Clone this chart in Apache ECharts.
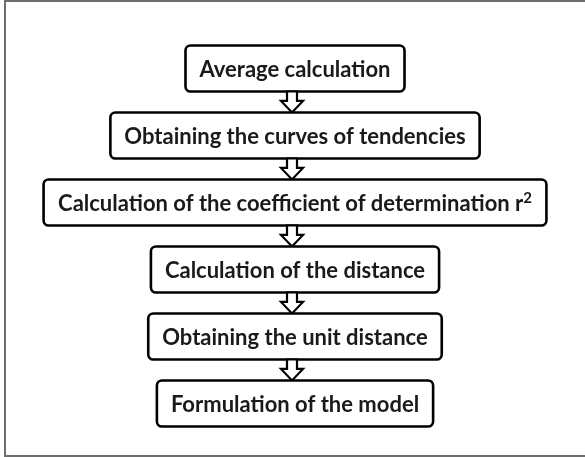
<!DOCTYPE html>
<html>
<head>
<meta charset="utf-8">
<script src="https://cdn.jsdelivr.net/npm/echarts@6/dist/echarts.min.js"></script>
<style>
html, body { margin: 0; padding: 0; background: #fff; }
#main { width: 585px; height: 457px; }
</style>
</head>
<body>
<div id="main"></div>
<script>
// flowchart steps, top to bottom
var steps = [
	'Average calculation',
	'Obtaining the curves of tendencies',
	'Calculation of the coefficient of determination r²',
	'Calculation of the distance',
	'Obtaining the unit distance',
	'Formulation of the model'
];
var stepIndex = steps.map(function(s, i) { return i; });

// layout / style
var FONT_FAMILY = 'Lato';
var FONT_SIZE = 22;
var SUP_SIZE = 15;
var CENTER_X = 295;
var BOX_H = 46;
var PAD_X = 14;
var TEXT_COLOR = '#1a1a1a';

var ctx = document.createElement('canvas').getContext('2d');
function textWidth(str, size) {
	ctx.font = 'bold ' + size + 'px ' + FONT_FAMILY;
	return ctx.measureText(str).width;
}

function renderStep(params, api) {
	var i = api.value(1);
	var p = api.coord([CENTER_X, i]);
	var label = steps[i];
	var main = label, sup = '';
	if (label.indexOf('²') >= 0) {
		main = label.replace('²', '');
		sup = '2';
	}
	var w = textWidth(main, FONT_SIZE) + (sup ? textWidth(sup, SUP_SIZE) + 1 : 0) + 2 * PAD_X;
	var children = [];
	if (i > 0) {
		var prev = api.coord([CENTER_X, i - 1]);
		var y0 = prev[1] + BOX_H / 2;
		var y1 = p[1] - BOX_H / 2;
		var yh = y0 + (y1 - y0) * 0.45;
		var cx = p[0] - 3;
		children.push({
			type: 'polygon',
			shape: {
				points: [
					[cx - 5, y0], [cx + 5, y0], [cx + 5, yh], [cx + 11, yh],
					[cx, y1], [cx - 11, yh], [cx - 5, yh]
				]
			},
			style: { fill: '#fff', stroke: '#000', lineWidth: 2.2, lineJoin: 'miter' }
		});
	}
	children.push({
		type: 'rect',
		shape: { x: p[0] - w / 2, y: p[1] - BOX_H / 2, width: w, height: BOX_H, r: 5 },
		style: { fill: '#fff', stroke: '#000', lineWidth: 2.6 }
	});
	var text = '{n|' + main + '}' + (sup ? '{s|' + sup + '}' : '');
	children.push({
		type: 'text',
		style: {
			x: p[0], y: p[1] + 1,
			text: text,
			align: 'center',
			verticalAlign: 'middle',
			rich: {
				n: { fontSize: FONT_SIZE, fontWeight: 'bold', fontFamily: FONT_FAMILY, fill: TEXT_COLOR, lineHeight: 26 },
				s: { fontSize: SUP_SIZE, fontWeight: 'bold', fontFamily: FONT_FAMILY, fill: TEXT_COLOR, lineHeight: 15, verticalAlign: 'top' }
			}
		}
	});
	return { type: 'group', children: children };
}

var myChart = echarts.init(document.getElementById('main'));
var option = {
	backgroundColor: '#fff',
	animation: false,
	graphic: [{
		type: 'rect',
		z: -10,
		shape: { x: 5, y: 1, width: 620, height: 455 },
		style: { fill: 'none', stroke: '#6e6e6e', lineWidth: 2 }
	}],
	grid: { left: 0, right: 0, top: 35, bottom: 20 },
	xAxis: { type: 'value', min: 0, max: 585, show: false },
	yAxis: { type: 'category', data: steps, inverse: true, show: false },
	series: [{
		type: 'custom',
		renderItem: renderStep,
		clip: false,
		data: stepIndex.map(function(i) { return [CENTER_X, i]; })
	}]
};
myChart.setOption(option);
window.addEventListener('resize', function() {
	myChart.resize();
});
</script>
</body>
</html>
